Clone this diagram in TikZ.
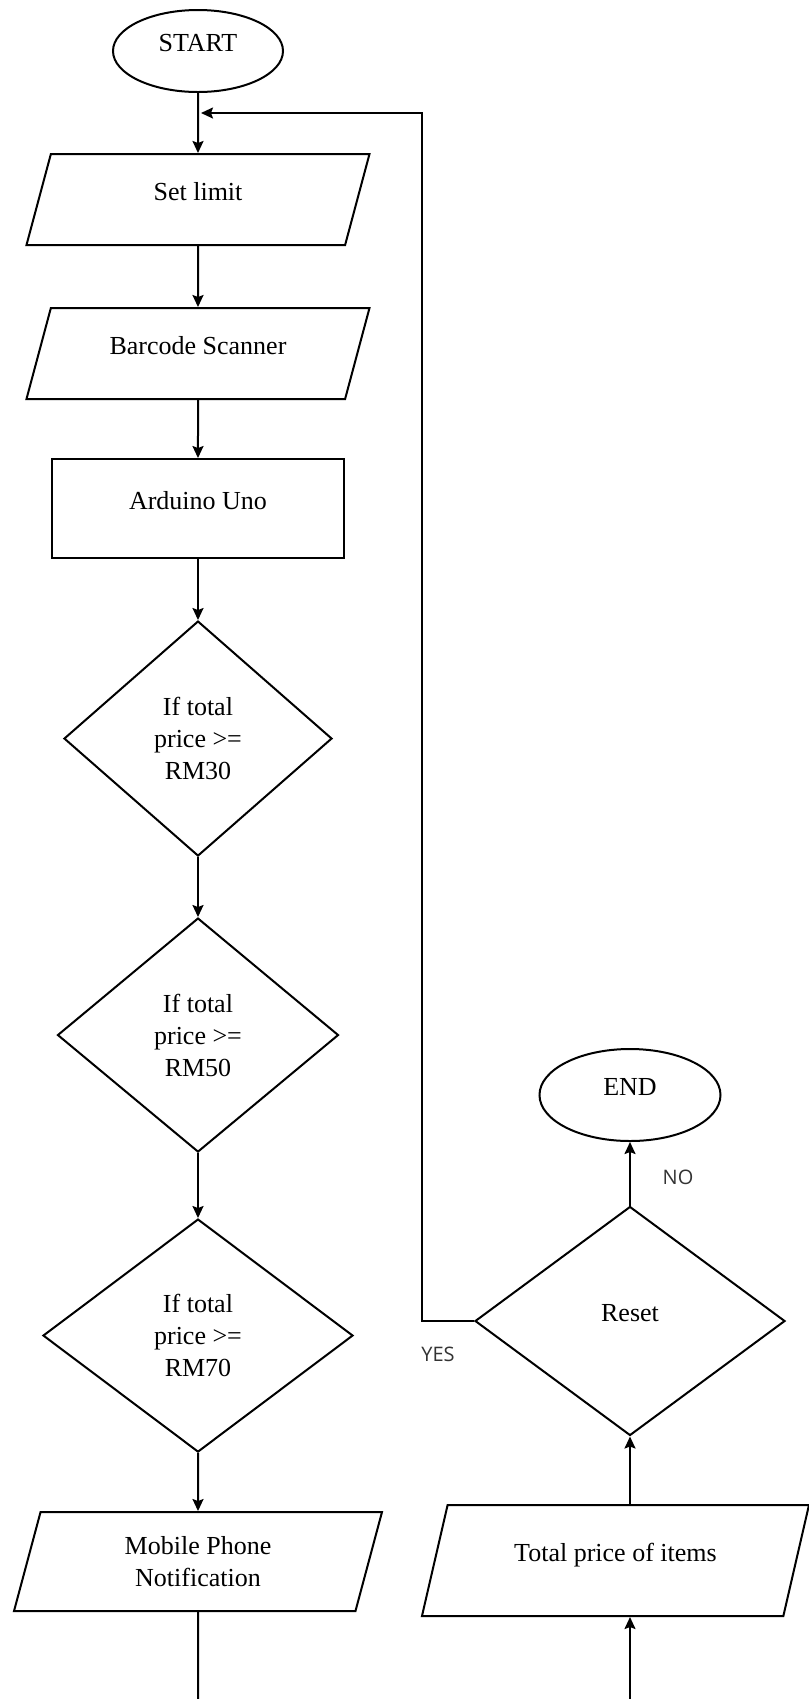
\documentclass[tikz,border=0pt]{standalone}
\usepackage{fontspec}
\setmainfont{Liberation Serif}
\newfontfamily\lblfont{Open Sans}
\usetikzlibrary{shapes.geometric, positioning, arrows.meta}

\begin{document}
\begin{tikzpicture}[
            x=0.5pt, y=-0.5pt, % one unit is one pixel of the page, y runs down
            line width=1pt,
            arr/.style={-{Stealth[length=6pt, width=5.5pt, inset=1pt]}},
            term/.style={ellipse, draw, minimum width=85pt, minimum height=41pt, inner sep=0pt},
            % slant comes from the natural height, so the height is made with inner ysep
            io/.style={trapezium, trapezium left angle=75, trapezium right angle=105,
                trapezium stretches body, draw, minimum width=171.5pt,
                inner xsep=0pt, inner ysep=14.15pt},
            proc/.style={rectangle, draw, minimum width=146pt, minimum height=49.5pt},
            dec/.style={diamond, draw, align=center, inner sep=1pt},
            lift/.style={text height=9pt, text depth=8.2pt}, % text sits a bit high
            yn/.style={font=\lblfont\fontsize{10pt}{12pt}\selectfont, text=black!80},
            font={\fontsize{13pt}{16pt}\selectfont}
        ]
        \useasboundingbox (0,0) rectangle (809,1699);
        \coordinate (bot) at (0,1699); % bottom edge of the page

        % main column
        \node[term, lift] (start) at (198,51) {START};
        \node[io, lift, below=30pt of start] (limit) {Set limit};
        \node[io, lift, below=30.5pt of limit] (scan) {Barcode Scanner};
        \node[proc, lift, below=29pt of scan] (ard) {Arduino Uno};
        \node[dec, minimum width=134pt, minimum height=117.5pt, below=30.5pt of ard] (d1)
            {If total\\price >=\\RM30};
        \node[dec, minimum width=140.5pt, minimum height=117pt, below=30pt of d1] (d2)
            {If total\\price >=\\RM50};
        \node[dec, minimum width=155pt, minimum height=116.5pt, below=32.5pt of d2] (d3)
            {If total\\price >=\\RM70};
        \node[io, minimum width=184pt, inner ysep=12.2pt, minimum height=49.5pt,
            below=29pt of d3, align=center] (mpn)
            {Mobile Phone\\Notification};

        % right column
        \node[dec, lift, minimum width=155pt, minimum height=114.5pt] (reset) at (630,1321) {Reset};
        \node[term, lift, minimum width=90.5pt, minimum height=46pt, above=31.75pt of reset] (end) {END};
        \node[io, lift, trapezium left angle=77, trapezium right angle=103,
            minimum width=193.5pt, inner ysep=19.15pt,
            below=33.75pt of reset, xshift=-7.25pt] (tot) {Total price of items};

        \node[yn] (yes) at (438,1354) {YES};
        \node[yn] (no) at (678,1177) {NO};

        \coordinate (loopin) at (201,113); % where the loop meets the first arrow

        \draw[arr] (start) -- (limit);
        \draw[arr] (limit) -- (scan);
        \draw[arr] (scan) -- (ard);
        \draw[arr] (ard) -- (d1);
        \draw[arr] (d1) -- (d2);
        \draw[arr] (d2) -- (d3);
        \draw[arr] (d3) -- (mpn);
        \draw (mpn) -- (mpn.south |- bot);
        \draw[arr] (reset.south |- bot) -- (tot.south -| reset.south);
        \draw[arr] (tot.north -| reset.south) -- (reset.south);
        \draw[arr] (reset) -- (end);
        \draw[arr] (reset.west) -- ++(-52,0) |- (loopin);
    \end{tikzpicture}
\end{document}
